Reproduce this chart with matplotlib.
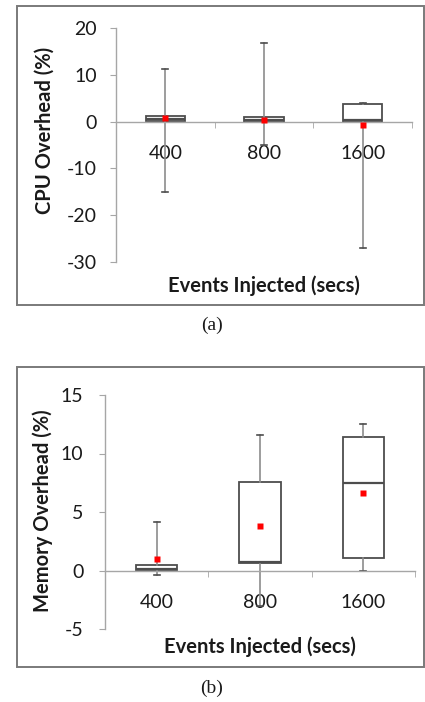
import numpy as np
import matplotlib; matplotlib.use('Agg')
import matplotlib.pyplot as plt
from matplotlib.patches import Rectangle

plt.rcParams['font.family'] = ['Lato', 'DejaVu Sans']
plt.rcParams['axes.unicode_minus'] = False

CATS = ['400', '800', '1600']

# (a) CPU overhead (%)
CPU_LO   = [-15.1, -5.0, -27.1]
CPU_Q1   = [0.1, -0.1, 0.0]
CPU_MED  = [0.6, 0.3, 0.4]
CPU_Q3   = [1.3, 1.0, 3.8]
CPU_HI   = [11.2, 16.9, 4.0]
CPU_MEAN = [0.7, 0.3, -0.7]

# (b) Memory overhead (%)
MEM_LO   = [-0.35, -3.0, 0.0]
MEM_Q1   = [0.05, 0.65, 1.1]
MEM_MED  = [0.15, 0.75, 7.5]
MEM_Q3   = [0.45, 7.55, 11.4]
MEM_HI   = [4.15, 11.55, 12.55]
MEM_MEAN = [0.95, 3.8, 6.6]

W, H = 425, 702
fig = plt.figure(figsize=(W / 100, H / 100), dpi=100)

def fx(px): return px / W
def fy(py): return 1 - py / H

def panel(rect_px, ax_px, lo, q1, med, q3, hi, mean, ylim, yticks, ylabel,
          ylab_xy, xlab_xy, cap, cap_txt, ypad):
    x0, y0, x1, y1 = rect_px
    fig.add_artist(Rectangle((fx(x0), fy(y1)), fx(x1) - fx(x0), fy(y0) - fy(y1),
                             transform=fig.transFigure, fill=False,
                             ec='#7a7a7a', lw=1.4))
    l, t, r, b = ax_px
    ax = fig.add_axes([fx(l), fy(b), fx(r) - fx(l), fy(t) - fy(b)])
    stats = [dict(whislo=lo[i], q1=q1[i], med=med[i], q3=q3[i], whishi=hi[i])
             for i in range(len(CATS))]
    ax.bxp(stats, positions=range(len(CATS)), widths=0.4, showfliers=False,
           patch_artist=True, capwidths=0.06,
           boxprops=dict(facecolor='white', edgecolor='#4d4d4d', lw=1.3),
           medianprops=dict(color='#4d4d4d', lw=1.6),
           whiskerprops=dict(color='#8c8c8c', lw=1.2),
           capprops=dict(color='#4d4d4d', lw=1.2))
    ax.plot(range(len(CATS)), mean, 's', color='#ff0000', ms=4.5, mec='none', zorder=5)
    ax.set_xlim(-0.5, 2.5)
    ax.set_ylim(*ylim)
    ax.set_yticks(yticks)
    for s in ['top', 'right']:
        ax.spines[s].set_visible(False)
    ax.spines['bottom'].set_position(('data', 0))
    for s in ['left', 'bottom']:
        ax.spines[s].set_color('#a6a6a6')
        ax.spines[s].set_linewidth(1.0)
    ax.set_xticks(range(len(CATS)))
    ax.set_xticklabels(CATS)
    ax.set_xticks([0.5, 1.5, 2.5], minor=True)
    ax.tick_params(axis='x', which='major', length=0, pad=17, labelsize=14,
                   labelcolor='#1a1a1a')
    ax.tick_params(axis='x', which='minor', length=4, color='#a6a6a6', direction='out')
    ax.tick_params(axis='y', length=4, color='#a6a6a6', pad=ypad, labelsize=14,
                   labelcolor='#1a1a1a')
    ax.patch.set_alpha(0)
    fig.text(fx(ylab_xy[0]), fy(ylab_xy[1]), ylabel, rotation=90, ha='center',
             va='center', fontsize=14.5, fontweight='bold', color='#1a1a1a')
    fig.text(fx(xlab_xy[0]), fy(xlab_xy[1]), 'Events Injected (secs)', ha='center',
             va='center', fontsize=14.5, fontweight='bold', color='#1a1a1a')
    fig.text(fx(212), fy(cap), cap_txt, ha='center', va='center', fontsize=14,
             family='Liberation Serif', color='#1a1a1a')
    return ax

panel((17, 6, 424, 305), (116, 28, 412, 262), CPU_LO, CPU_Q1, CPU_MED, CPU_Q3,
      CPU_HI, CPU_MEAN, (-30, 20), [20, 10, 0, -10, -20, -30], 'CPU Overhead (%)',
      (45, 130), (264, 286), 325, '(a)', 9.5)
panel((17, 367, 424, 667), (105, 395, 415, 629), MEM_LO, MEM_Q1, MEM_MED, MEM_Q3,
      MEM_HI, MEM_MEAN, (-5, 15), [15, 10, 5, 0, -5], 'Memory Overhead (%)',
      (43, 511), (260, 647), 688, '(b)', 11.5)

fig.savefig('out.png', dpi=100)
